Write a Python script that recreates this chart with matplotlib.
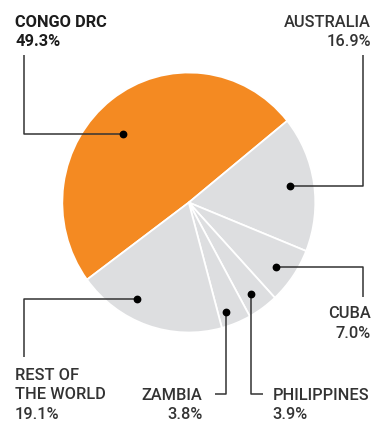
import numpy as np
import matplotlib
matplotlib.use("Agg")
import matplotlib.pyplot as plt

# Share of production by country (%)
countries = ["CONGO DRC", "AUSTRALIA", "CUBA", "PHILIPPINES", "ZAMBIA", "REST OF\nTHE WORLD"]
shares = [49.3, 16.9, 7.0, 3.9, 3.8, 19.1]
colors = ["#F48A22", "#DDDEE0", "#DDDEE0", "#DDDEE0", "#DDDEE0", "#DDDEE0"]

W, H = 372, 422
CX, CY = 188.8, 202.5
RX, RY = 126.5, 130.0
START = 216.4  # degrees, slices run clockwise from here

# where each dot sits inside its slice: (fraction along the arc, fraction of radius)
dot_pos = [(0.46, 0.74), (0.49, 0.81), (0.54, 0.85), (0.55, 0.86), (0.68, 0.89), (0.64, 0.85)]
# leader elbows, pixel coords from top-left (None = same as the dot)
leaders = [
    [(24, None), (24, 55)],
    [(362.7, None), (362.7, 55)],
    [(362.7, None), (362.7, 297)],
    [(None, 393.5), (263, 393.5)],
    [(None, 393.5), (215, 393.5)],
    [(24, None), (24, 357)],
]
labels = [
    dict(x=15, y=26.7, ha="left", bold=True),
    dict(x=371, y=26.7, ha="right"),
    dict(x=371, y=318.5, ha="right"),
    dict(x=272.7, y=399.5, ha="left"),
    dict(x=202.3, y=399.5, ha="right"),
    dict(x=15, y=380, ha="left"),
]
LINE = 19.3

plt.rcParams["font.family"] = ["Roboto", "DejaVu Sans"]

fig = plt.figure(figsize=(W / 100, H / 100), dpi=100)
ax = fig.add_axes([0, 0, 1, 1])
ax.set_xlim(0, W)
ax.set_ylim(H, 0)
ax.axis("off")

# pie gets its own axes so it can be stretched a touch taller than wide
pie_ax = fig.add_axes([(CX - RX) / W, 1 - (CY + RY) / H, 2 * RX / W, 2 * RY / H])
pie_ax.pie(shares, colors=colors, radius=1, startangle=START, counterclock=False,
           wedgeprops=dict(edgecolor="white", linewidth=1.3))
pie_ax.set_xlim(-1, 1)
pie_ax.set_ylim(-1, 1)
pie_ax.set_aspect("auto")
pie_ax.axis("off")
pie_ax.set_zorder(1)
ax.set_zorder(2)
ax.patch.set_visible(False)

bounds = START - np.concatenate([[0], np.cumsum(shares)]) * 3.6
ink = "#333333"
for i, (name, val) in enumerate(zip(countries, shares)):
    fa, fr = dot_pos[i]
    a = np.radians(bounds[i] + fa * (bounds[i + 1] - bounds[i]))
    dx = CX + fr * RX * np.cos(a)
    dy = CY - fr * RY * np.sin(a)

    pts = [(dx, dy)]
    for px, py in leaders[i]:
        pts.append((px if px is not None else dx, py if py is not None else dy))
    xs, ys = zip(*pts)
    ax.plot(xs, ys, color=ink, lw=1.1, solid_capstyle="butt", zorder=3)
    ax.plot(dx, dy, "o", color="black", ms=4.6, zorder=4)

    lab = labels[i]
    lines = name.split("\n") + [f"{val:.1f}%"]
    for k, txt in enumerate(lines):
        ax.text(lab["x"], lab["y"] + k * LINE, txt, ha=lab["ha"], va="baseline",
                fontsize=11.8, color="#1c1c1c" if lab.get("bold") else "#333333",
                fontweight="bold" if lab.get("bold") else "medium")

fig.savefig("out.png", dpi=100, facecolor="white")
